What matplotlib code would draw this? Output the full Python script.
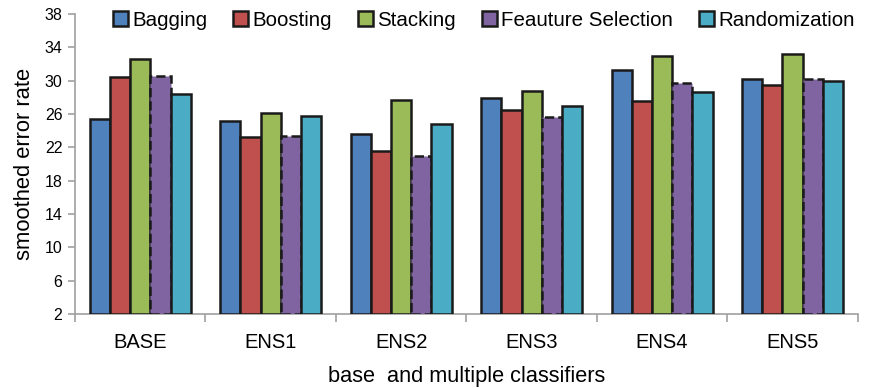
"""Smoothed error rate of base and ensemble classifiers, grouped bar chart."""

import matplotlib
matplotlib.use("Agg")
import matplotlib.pyplot as plt
import numpy as np

plt.rcParams["font.family"] = ["Liberation Sans", "DejaVu Sans"]

CATEGORIES = ["BASE", "ENS1", "ENS2", "ENS3", "ENS4", "ENS5"]
SERIES = ["Bagging", "Boosting", "Stacking", "Feauture Selection", "Randomization"]

bagging = [25.4, 25.1, 23.6, 27.9, 31.3, 30.2]
boosting = [30.4, 23.2, 21.5, 26.5, 27.5, 29.5]
stacking = [32.6, 26.1, 27.7, 28.8, 32.9, 33.2]
feature_sel = [30.6, 23.4, 20.9, 25.6, 29.7, 30.2]
randomization = [28.4, 25.7, 24.8, 27.0, 28.6, 30.0]

COLORS = ["#4F81BD", "#C0504D", "#9BBB59", "#8064A2", "#4BACC6"]
GRAY = "#A0A0A0"


def main() -> None:
    values = [bagging, boosting, stacking, feature_sel, randomization]
    fig = plt.figure(figsize=(8.78, 3.88), dpi=100)
    ax = fig.add_axes([0.0854, 0.191, 0.8916, 0.773])

    x = np.arange(len(CATEGORIES))
    width = 0.155
    base = 2
    for i, (name, vals, color) in enumerate(zip(SERIES, values, COLORS)):
        offset = (i - 2) * width
        heights = np.array(vals) - base
        ax.bar(
            x + offset,
            heights,
            width,
            bottom=base,
            color=color,
            edgecolor="#1a1a1a",
            linewidth=1.8,
            linestyle="--" if i == 3 else "-",
            label=name,
            zorder=3,
        )

    ax.set_xlim(-0.5, len(CATEGORIES) - 0.5)
    ax.set_ylim(2, 38)
    ax.set_yticks(np.arange(2, 39, 4))
    ax.set_xticks(x)
    ax.set_xticklabels(CATEGORIES, fontsize=14.5)
    ax.set_xticks(np.arange(-0.5, len(CATEGORIES), 1), minor=True)
    ax.tick_params(axis="x", which="major", length=0, pad=14)
    ax.tick_params(axis="x", which="minor", length=6, color=GRAY, width=1.2)
    ax.tick_params(axis="y", length=5, color=GRAY, width=1.2, labelsize=11.5, pad=4)

    for side in ["top", "right"]:
        ax.spines[side].set_visible(False)
    for side in ["left", "bottom"]:
        ax.spines[side].set_color(GRAY)
        ax.spines[side].set_linewidth(1.2)

    ax.set_ylabel("smoothed error rate", fontsize=15.8, labelpad=7)
    ax.set_xlabel("base  and multiple classifiers", fontsize=15.7, labelpad=10)

    leg = ax.legend(
        loc="upper left",
        bbox_to_anchor=(0.126, 0.978),
        bbox_transform=fig.transFigure,
        ncol=5,
        frameon=False,
        fontsize=14.8,
        handlelength=0.75,
        handleheight=0.75,
        handletextpad=0.2,
        columnspacing=1.25,
        borderaxespad=0,
        borderpad=0.1,
    )
    for patch in leg.get_patches():
        patch.set_linestyle("-")
        patch.set_linewidth(1.8)

    fig.savefig("out.png", dpi=100)
    plt.close(fig)


if __name__ == "__main__":
    main()
